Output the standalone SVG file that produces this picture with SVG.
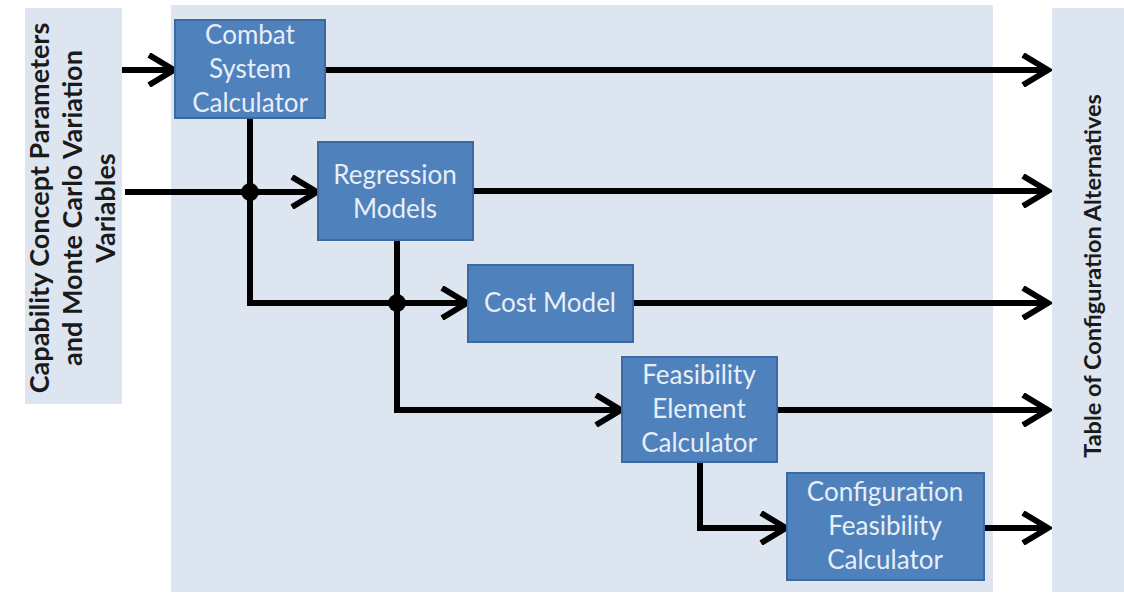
<svg xmlns="http://www.w3.org/2000/svg" width="1124" height="596" viewBox="0 0 1124 596">
<defs>
<style>
.panel{fill:#dce5f0;}
.box{fill:#4f81bd;stroke:#3b6aa3;stroke-width:2;}
.bt{font-family:Lato,"Open Sans",sans-serif;font-size:26px;fill:#e8eef7;text-anchor:middle;}
.side{font-family:Lato,"Open Sans",sans-serif;font-weight:bold;fill:#1a1a1a;text-anchor:middle;}
.ln{fill:none;stroke:#000;stroke-width:6;}
.ar{marker-end:url(#arr);}
</style>
<marker id="arr" markerUnits="userSpaceOnUse" viewBox="0 0 34 34" markerWidth="34" markerHeight="34" refX="30" refY="17" orient="auto">
<path d="M5,2 L30,17 L5,32" fill="none" stroke="#000" stroke-width="6"/>
</marker>
</defs>
<rect width="1124" height="596" fill="#ffffff"/>
<g id="input-panel">
<rect class="panel" x="25" y="8" width="97" height="396"/>
<g transform="translate(73,208) rotate(-90)">
<text class="side" font-size="27" x="0" y="-24">Capability Concept Parameters</text>
<text class="side" font-size="27" x="0" y="9">and Monte Carlo Variation</text>
<text class="side" font-size="27" x="0" y="42">Variables</text>
</g>
</g>
<g id="main-panel">
<rect class="panel" x="171" y="5" width="822" height="587"/>
</g>
<g id="output-panel">
<rect class="panel" x="1052" y="8" width="72" height="584"/>
<text class="side" font-size="23.5" transform="translate(1101,276) rotate(-90)">Table of Configuration Alternatives</text>
</g>
<g id="connectors">
<line class="ln ar" x1="122" y1="70" x2="174" y2="70"/>
<line class="ln ar" x1="325" y1="70" x2="1048" y2="70"/>
<line class="ln ar" x1="125" y1="192" x2="317" y2="192"/>
<line class="ln ar" x1="473" y1="191" x2="1048" y2="191"/>
<polyline class="ln ar" points="250,118 250,303 467,303"/>
<line class="ln ar" x1="633" y1="303" x2="1048" y2="303"/>
<polyline class="ln ar" points="397,240 397,410 621,410"/>
<line class="ln ar" x1="777" y1="410" x2="1048" y2="410"/>
<polyline class="ln ar" points="700,462 700,528 786,528"/>
<line class="ln ar" x1="984" y1="528" x2="1048" y2="528"/>
<circle cx="250" cy="192" r="9" fill="#000"/>
<circle cx="397" cy="303" r="9" fill="#000"/>
</g>
<g id="combat">
<rect class="box" x="175" y="20" width="150" height="98"/>
<text class="bt" x="250" y="44">Combat</text>
<text class="bt" x="250" y="78">System</text>
<text class="bt" x="250" y="112">Calculator</text>
</g>
<g id="regression">
<rect class="box" x="318" y="142" width="155" height="98"/>
<text class="bt" x="395" y="184">Regression</text>
<text class="bt" x="395" y="218">Models</text>
</g>
<g id="cost">
<rect class="box" x="468" y="265" width="165" height="77"/>
<text class="bt" x="550" y="312">Cost Model</text>
</g>
<g id="feasibility">
<rect class="box" x="622" y="357" width="155" height="105"/>
<text class="bt" x="699" y="384">Feasibility</text>
<text class="bt" x="699" y="418">Element</text>
<text class="bt" x="699" y="452">Calculator</text>
</g>
<g id="configuration">
<rect class="box" x="787" y="473" width="197" height="107"/>
<text class="bt" x="885" y="501">Configuration</text>
<text class="bt" x="885" y="535">Feasibility</text>
<text class="bt" x="885" y="569">Calculator</text>
</g>
</svg>
